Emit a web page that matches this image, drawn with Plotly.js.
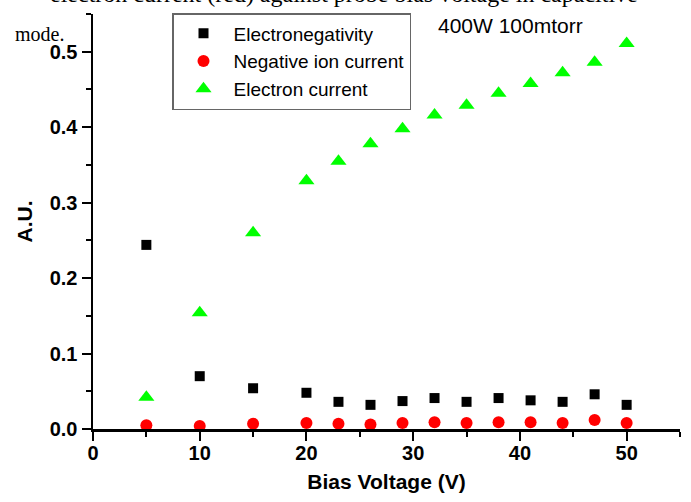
<!DOCTYPE html>
<html>
<head>
<meta charset="utf-8">
<script src="https://cdn.plot.ly/plotly-3.0.1.min.js"></script>
<style>html,body{margin:0;padding:0;background:#fff}#chart{width:691px;height:502px}</style>
</head>
<body>
<div id="chart"></div>
<script>
const biasVoltage = [5, 10, 15, 20, 23, 26, 29, 32, 35, 38, 41, 44, 47, 50];
const electronegativity = [0.244, 0.070, 0.054, 0.048, 0.036, 0.032, 0.037, 0.041, 0.036, 0.041, 0.038, 0.036, 0.046, 0.032];
const negativeIonCurrent = [0.005, 0.004, 0.007, 0.008, 0.007, 0.006, 0.008, 0.009, 0.008, 0.009, 0.009, 0.008, 0.012, 0.008];
const electronCurrent = [0.042, 0.154, 0.260, 0.329, 0.355, 0.378, 0.398, 0.416, 0.429, 0.445, 0.458, 0.472, 0.486, 0.511];
const seriesNames = ["Electronegativity", "Negative ion current", "Electron current"];

const traces = [
  {x: biasVoltage, y: electronegativity, name: seriesNames[0], type: 'scatter', mode: 'markers', cliponaxis: false,
   marker: {symbol: 'square', size: 10, color: '#000000'}},
  {x: biasVoltage, y: negativeIonCurrent, name: seriesNames[1], type: 'scatter', mode: 'markers', cliponaxis: false,
   marker: {symbol: 'circle', size: 12, color: '#ff0000'}},
  {x: biasVoltage, y: electronCurrent, name: seriesNames[2], type: 'scatter', mode: 'markers', cliponaxis: false,
   marker: {symbol: 'triangle-up', size: 14, color: '#00ff00'}}
];

const sans = 'Liberation Sans, Arial, sans-serif';
const serif = 'Liberation Serif, Times New Roman, serif';
const tickFont = {family: sans, size: 20, color: '#000', weight: 'bold'};
const titleFont = {family: sans, size: 21, color: '#000', weight: 'bold'};

const layout = {
  width: 691, height: 502,
  margin: {l: 93, r: 11, t: 14, b: 73},
  paper_bgcolor: '#fff', plot_bgcolor: '#fff',
  showlegend: true,
  legend: {
    x: (172 - 93) / 587, y: (429 - 13) / 415, xanchor: 'left', yanchor: 'top',
    bgcolor: '#fff', bordercolor: '#666', borderwidth: 1.5,
    font: {family: sans, size: 19, color: '#000'},
    itemwidth: 50, tracegroupgap: 0
  },
  xaxis: {
    range: [0, 55], dtick: 10, tick0: 0,
    showgrid: false, zeroline: false,
    showline: true, linecolor: '#000', linewidth: 2.5,
    ticks: 'outside', ticklen: 9, tickwidth: 2, tickcolor: '#000',
    ticklabelstandoff: -5,
    minor: {dtick: 5, tick0: 0, ticks: 'outside', ticklen: 5, tickwidth: 2, tickcolor: '#000', showgrid: false},
    tickfont: tickFont,
    title: {text: 'Bias Voltage (V)', font: titleFont, standoff: 12}
  },
  yaxis: {
    range: [0, 0.55], dtick: 0.1, tick0: 0, tickformat: '.1f',
    showgrid: false, zeroline: false,
    showline: true, linecolor: '#000', linewidth: 2.5,
    ticks: 'outside', ticklen: 9, tickwidth: 2, tickcolor: '#000',
    minor: {dtick: 0.05, tick0: 0, ticks: 'outside', ticklen: 5, tickwidth: 2, tickcolor: '#000', showgrid: false},
    tickfont: tickFont,
    title: {text: 'A.U.', font: titleFont, standoff: 12}
  },
  annotations: [
    {text: '400W 100mtorr', xref: 'paper', yref: 'paper', x: (436 - 93) / 587, y: (429 - 25) / 415,
     xanchor: 'left', yanchor: 'middle', showarrow: false,
     font: {family: sans, size: 21, color: '#000'}},
    {text: 'electron current (red) against probe bias voltage in capacitive', xref: 'paper', yref: 'paper',
     x: (344 - 93) / 587, y: (429 + 6) / 415, xanchor: 'center', yanchor: 'middle', showarrow: false,
     font: {family: serif, size: 24, color: '#000'}},
    {text: 'mode.', xref: 'paper', yref: 'paper',
     x: (13 - 93) / 587, y: (429 - 34) / 415, xanchor: 'left', yanchor: 'middle', showarrow: false,
     font: {family: serif, size: 20, color: '#000'}}
  ]
};

Plotly.newPlot('chart', traces, layout, {displayModeBar: false, staticPlot: true});
</script>
</body>
</html>
